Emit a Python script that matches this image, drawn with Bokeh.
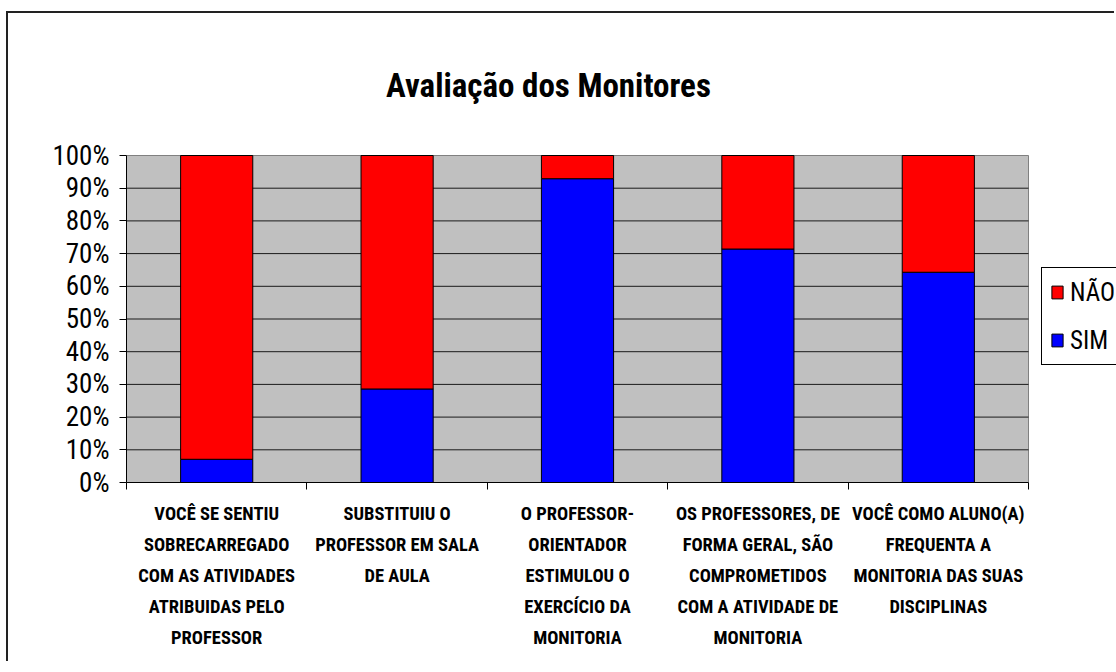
from bokeh.plotting import figure
from bokeh.models import (Range1d, FixedTicker, NumeralTickFormatter, Legend, LegendItem,
                          Label, BoxAnnotation)
from bokeh.embed import file_html
from bokeh.resources import INLINE

# ---- data ----
categories = [
    "VOCÊ SE SENTIU\nSOBRECARREGADO\nCOM AS ATIVIDADES\nATRIBUIDAS PELO\nPROFESSOR",
    "SUBSTITUIU O\nPROFESSOR EM SALA\nDE AULA",
    "O PROFESSOR-\nORIENTADOR\nESTIMULOU O\nEXERCÍCIO DA\nMONITORIA",
    "OS PROFESSORES, DE\nFORMA GERAL, SÃO\nCOMPROMETIDOS\nCOM A ATIVIDADE DE\nMONITORIA",
    "VOCÊ COMO ALUNO(A)\nFREQUENTA A\nMONITORIA DAS SUAS\nDISCIPLINAS",
]
sim = [0.071, 0.286, 0.929, 0.714, 0.643]
nao = [0.929, 0.714, 0.071, 0.286, 0.357]
series_names = ["SIM", "NÃO"]
series_colors = ["#0000FF", "#FF0000"]
y_ticks = [0.0, 0.1, 0.2, 0.3, 0.4, 0.5, 0.6, 0.7, 0.8, 0.9, 1.0]
title_text = "Avaliação dos Monitores"

FONT = "Roboto Condensed, Liberation Sans"

# ---- layout (pixels) ----
W, H = 1108, 650
LEFT, BOTTOM = 118, 181          # frame left / bottom border
PLOT_W, PLOT_H = 902, 327        # gray plot area size
TOP_GAP = H - BOTTOM - PLOT_H    # space above the gray area inside the frame

n = len(categories)
xs = [i + 0.5 for i in range(n)]
bounds = list(range(n + 1))
cat_px = PLOT_W / n
x_end = (W - LEFT) / cat_px
y_end = 1 + TOP_GAP / PLOT_H

p = figure(width=W, height=H, output_backend="svg", toolbar_location=None, title=None,
           x_range=Range1d(0, x_end), y_range=Range1d(0, y_end),
           min_border_left=LEFT, min_border_right=0, min_border_top=0, min_border_bottom=BOTTOM,
           background_fill_color="white", border_fill_color="white",
           outline_line_color=None)
p.styles = {"border-left": "2px solid #222222", "border-top": "2px solid #222222",
            "margin-top": "11px", "margin-left": "6px"}

# gray plot area
p.add_layout(BoxAnnotation(left=0, right=n, bottom=0, top=1, fill_color="#C0C0C0",
                           fill_alpha=1.0, line_color="#808080", line_width=1,
                           line_alpha=1.0, level="underlay"))

# grid lines limited to the plot area
inner = y_ticks[1:-1]
p.segment(x0=[0] * len(inner), x1=[n] * len(inner), y0=inner, y1=inner,
          line_color="#1a1a1a", line_width=1)

source = dict(x=xs, SIM=sim, NAO=nao)
rs = p.vbar_stack(["SIM", "NAO"], x="x", width=0.4, source=source,
                  fill_color=series_colors, line_color="black", line_width=1)

p.xgrid.visible = False
p.ygrid.visible = False

# y axis
p.yaxis.bounds = (0, 1)
p.yaxis.ticker = FixedTicker(ticks=y_ticks)
p.yaxis.formatter = NumeralTickFormatter(format="0%")
p.yaxis.major_label_text_font = FONT
p.yaxis.major_label_text_font_size = "27px"
p.yaxis.major_label_text_color = "black"
p.yaxis.major_tick_in = 0
p.yaxis.major_tick_out = 7
p.yaxis.major_tick_line_color = "black"
p.yaxis.minor_tick_line_color = None
p.yaxis.axis_line_color = "black"
p.yaxis.major_label_standoff = 10

# x axis
p.xaxis.bounds = (0, n)
p.xaxis.ticker = FixedTicker(ticks=xs, minor_ticks=bounds)
p.xaxis.major_label_overrides = {x: c for x, c in zip(xs, categories)}
p.xaxis.major_tick_line_color = None
p.xaxis.minor_tick_in = 0
p.xaxis.minor_tick_out = 7
p.xaxis.minor_tick_line_color = "black"
p.xaxis.axis_line_color = "black"
p.xaxis.major_label_text_font = FONT
p.xaxis.major_label_text_font_style = "bold"
p.xaxis.major_label_text_font_size = "18.5px"
p.xaxis.major_label_text_line_height = 1.42
p.xaxis.major_label_text_color = "black"
p.xaxis.major_label_standoff = 13

# title
p.add_layout(Label(x=422, y=397, x_units="screen", y_units="screen", text=title_text,
                   text_align="center", text_baseline="alphabetic",
                   text_font=FONT, text_font_style="bold", text_font_size="33px",
                   text_color="black"))

# legend
legend = Legend(items=[LegendItem(label=series_names[1], renderers=[rs[1]]),
                       LegendItem(label=series_names[0], renderers=[rs[0]])],
                location=(915, 117), orientation="vertical",
                label_text_font=FONT, label_text_font_size="25px",
                label_text_color="black",
                label_height=32, glyph_height=16, glyph_width=14,
                spacing=16, padding=8, label_standoff=6, margin=0,
                border_line_color="black", border_line_width=1, border_line_alpha=1.0,
                background_fill_color="white", background_fill_alpha=1.0)
p.add_layout(legend, "center")

open("out.html", "w").write(file_html(p, INLINE))
